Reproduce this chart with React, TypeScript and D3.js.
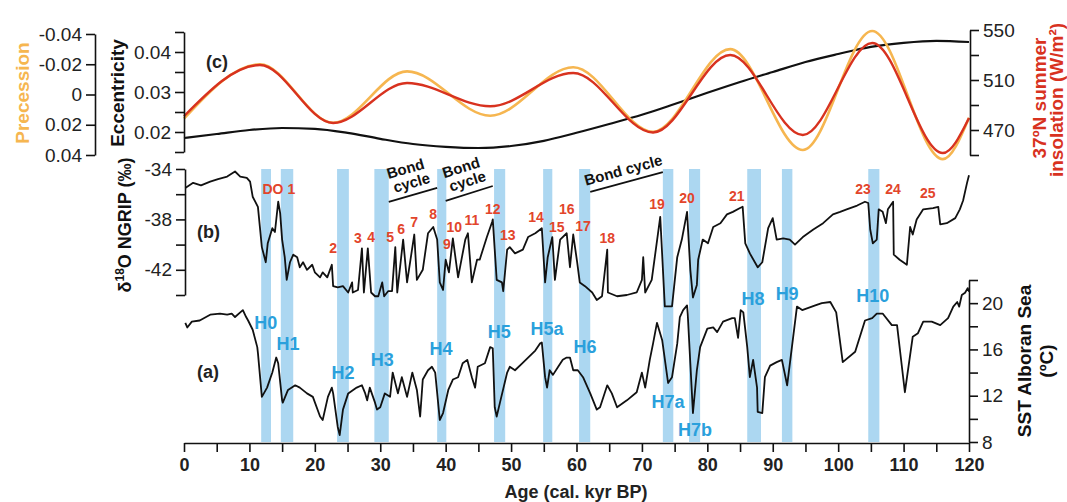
import React, { useEffect, useRef } from "react";
import * as d3 from "d3";

// ---- panel (c): orbital parameters ----
const eccAge = [0, 5, 10, 15, 20, 25, 30, 35, 40, 45, 50, 55, 60, 65, 70, 75, 80, 85, 90, 95, 100, 105, 110, 115, 120];
const eccVal = [0.0185, 0.0195, 0.0205, 0.021, 0.0208, 0.0198, 0.0183, 0.017, 0.0163, 0.016, 0.0165, 0.0178, 0.0198, 0.022, 0.0243, 0.027, 0.0298, 0.0325, 0.035, 0.0375, 0.0395, 0.0413, 0.0423, 0.0428, 0.0425];

const orbAge = [0, 11.6, 22.8, 34.1, 46.8, 59.5, 71.7, 83.5, 94.6, 105.2, 116, 120];
const precVal = [0.016, -0.02, 0.0187, -0.0153, 0.014, -0.018, 0.0247, -0.03, 0.0367, -0.042, 0.0427, 0.0153];
const insolVal = [481, 522, 475.6, 507.6, 489, 515.6, 468, 530, 466, 539.6, 451.6, 479.6];

// ---- panel (b): NGRIP d18O ----
const ngripAge = [0.2, 1.4, 2.6, 4.0, 5.2, 6.6, 7.8, 8.6, 9.6, 10.1, 10.5, 11.3, 11.6, 11.9, 12.5, 12.8, 13.5, 13.9, 14.4, 14.7, 15.0, 15.4, 15.7, 16.2, 16.7, 17.3, 17.7, 18.2, 18.8, 19.6, 20.0, 20.8, 21.2, 21.9, 22.6, 22.8, 23.5, 24.3, 25.1, 25.7, 25.8, 26.6, 27.2, 27.5, 28.1, 28.6, 29.2, 29.7, 30.3, 30.6, 31.2, 31.8, 32.3, 32.6, 33.5, 34.1, 35.2, 35.6, 36.5, 37.3, 38.1, 38.7, 39.1, 39.6, 40.0, 40.5, 41.1, 41.9, 43.0, 43.4, 44.0, 44.8, 45.2, 46.3, 47.1, 47.2, 47.8, 48.6, 48.8, 49.4, 49.8, 50.6, 51.8, 52.6, 53.7, 54.7, 55.2, 55.6, 56.3, 56.7, 57.5, 58.5, 59.0, 59.5, 60.1, 60.5, 61.3, 62.4, 63.1, 63.9, 64.7, 64.8, 66.2, 67.7, 69.2, 70.0, 70.2, 70.5, 71.5, 72.8, 73.5, 74.6, 75.4, 76.1, 76.9, 77.4, 77.8, 78.4, 78.6, 79.3, 80.1, 80.9, 82.0, 83.0, 83.9, 85.0, 85.4, 85.8, 86.5, 87.7, 88.4, 89.3, 90.0, 90.6, 91.6, 92.6, 93.4, 94.6, 96.2, 97.7, 99.2, 100.3, 101.3, 102.9, 104.1, 104.6, 104.9, 105.3, 105.9, 106.2, 106.8, 107.3, 107.6, 108.4, 108.5, 109.4, 110.5, 111.0, 111.4, 112.0, 113.0, 114.5, 115.3, 115.6, 116.6, 117.9, 118.6, 119.1, 119.7, 120.0];
const ngripVal = [-35.5, -35.1, -35.3, -35.0, -34.8, -34.6, -34.2, -34.6, -34.7, -35.0, -36.2, -37.0, -38.6, -40.2, -41.4, -39.9, -38.7, -39.0, -36.6, -37.5, -39.6, -41.0, -42.8, -41.4, -40.8, -41.0, -41.8, -41.4, -42.0, -41.6, -42.2, -42.6, -42.2, -42.6, -41.6, -43.3, -43.4, -43.3, -43.8, -43.0, -43.8, -43.6, -40.3, -43.8, -40.3, -43.8, -44.1, -44.1, -43.0, -44.1, -43.7, -43.7, -40.2, -43.8, -39.6, -43.0, -39.2, -42.8, -42.0, -39.1, -38.6, -39.6, -43.0, -43.6, -41.2, -42.2, -39.5, -42.6, -39.6, -39.1, -43.0, -41.2, -41.2, -39.4, -38.2, -38.0, -42.8, -43.0, -43.7, -40.4, -40.2, -40.7, -40.4, -39.4, -39.1, -38.7, -43.0, -41.0, -39.4, -42.8, -39.6, -39.1, -41.8, -39.2, -41.4, -43.0, -43.3, -43.8, -44.4, -44.1, -40.4, -43.8, -44.1, -44.0, -43.8, -42.8, -41.0, -43.8, -42.8, -37.8, -44.9, -44.9, -41.0, -39.6, -37.4, -42.0, -44.2, -43.2, -41.2, -39.6, -39.9, -38.6, -38.3, -37.6, -37.4, -37.1, -37.0, -39.9, -40.7, -41.8, -41.4, -38.7, -37.9, -39.6, -39.5, -39.6, -40.0, -39.4, -38.8, -38.3, -37.6, -37.4, -37.2, -36.9, -36.6, -36.7, -38.8, -39.9, -39.6, -37.2, -37.4, -38.3, -37.2, -36.6, -40.8, -41.2, -41.6, -38.6, -39.2, -38.0, -37.2, -37.1, -37.0, -38.4, -38.3, -37.9, -37.2, -36.5, -35.1, -34.5];

// ---- panel (a): Alboran Sea SST ----
const sstAge = [0.2, 0.5, 1.2, 2.4, 4.0, 5.5, 6.6, 7.3, 7.8, 8.6, 9.0, 9.5, 9.8, 10.5, 11.2, 11.3, 11.9, 12.7, 13.5, 14.1, 14.4, 15.0, 15.1, 15.9, 17.0, 17.7, 18.8, 19.7, 20.8, 21.2, 22.0, 22.6, 22.8, 23.5, 23.8, 24.3, 25.1, 26.4, 27.2, 27.7, 28.0, 28.4, 29.2, 29.5, 30.0, 30.7, 31.5, 31.9, 32.7, 33.3, 34.1, 34.9, 35.6, 36.1, 36.5, 37.3, 37.9, 38.4, 39.1, 39.6, 40.4, 41.1, 41.9, 42.6, 43.3, 44.0, 44.5, 44.9, 46.0, 46.8, 47.2, 47.5, 47.8, 48.3, 49.4, 49.8, 50.6, 51.7, 52.6, 53.7, 54.4, 54.7, 55.2, 55.5, 55.9, 56.4, 57.2, 57.9, 58.5, 59.0, 59.5, 60.2, 61.0, 62.1, 63.1, 63.6, 64.7, 65.4, 66.2, 67.7, 69.2, 70.0, 70.5, 71.2, 71.7, 72.3, 73.1, 74.0, 74.6, 75.4, 75.8, 76.3, 76.9, 77.0, 77.4, 77.8, 78.4, 78.9, 80.0, 80.9, 81.5, 82.4, 83.8, 84.2, 84.7, 85.1, 85.5, 86.1, 86.5, 87.0, 87.6, 87.7, 88.4, 88.8, 89.6, 90.6, 91.4, 92.2, 93.7, 94.5, 96.5, 97.5, 98.8, 99.7, 100.7, 102.6, 104.1, 105.2, 105.9, 106.8, 108.2, 109.0, 110.2, 111.4, 112.2, 113.0, 114.3, 115.6, 116.8, 117.6, 118.2, 118.5, 118.9, 119.4, 119.8, 120.0];
const sstVal = [18.3, 17.9, 18.4, 18.5, 19.0, 19.1, 19.0, 19.1, 18.8, 19.2, 19.4, 18.8, 18.5, 17.7, 16.2, 15.7, 11.9, 12.7, 14.0, 15.3, 14.8, 11.6, 11.4, 12.5, 12.9, 12.7, 12.2, 11.9, 10.2, 9.9, 11.9, 12.7, 12.2, 9.3, 8.6, 10.8, 12.2, 12.7, 12.9, 12.2, 11.6, 12.7, 11.4, 10.8, 11.0, 12.2, 11.9, 14.0, 12.2, 13.6, 11.9, 14.0, 12.5, 10.2, 13.4, 14.2, 14.5, 14.0, 9.9, 10.5, 12.5, 13.4, 13.6, 14.8, 15.1, 13.6, 12.7, 14.5, 14.8, 16.2, 16.1, 11.0, 10.2, 11.4, 14.0, 14.5, 14.2, 14.8, 15.3, 15.9, 16.5, 16.6, 13.6, 12.7, 14.2, 13.8, 14.5, 15.1, 15.3, 15.3, 14.2, 14.2, 13.6, 12.2, 10.8, 11.0, 12.9, 12.2, 11.0, 11.6, 12.3, 14.0, 12.7, 15.1, 16.5, 18.3, 16.8, 13.1, 13.6, 16.5, 18.8, 19.4, 19.8, 19.1, 14.8, 10.5, 14.2, 16.2, 17.8, 17.9, 17.5, 18.4, 18.7, 18.7, 17.0, 19.4, 19.2, 16.2, 13.6, 15.1, 12.7, 10.6, 10.5, 13.6, 14.6, 14.9, 15.1, 12.9, 19.7, 19.4, 19.8, 20.0, 20.1, 19.2, 14.9, 15.8, 18.5, 18.7, 19.1, 19.1, 18.1, 18.1, 12.3, 17.1, 17.4, 18.4, 18.4, 18.1, 18.7, 19.7, 20.1, 19.7, 20.7, 20.9, 21.3, 21.0];

// Heinrich stadials (kyr BP)
const bandStart = [11.8, 14.8, 23.4, 29.1, 38.7, 47.4, 54.9, 60.4, 73.2, 77.2, 86.1, 91.4, 104.6];
const bandEnd = [13.3, 16.7, 25.2, 31.3, 40.1, 49.1, 56.3, 62.1, 74.8, 78.9, 88.2, 93.0, 106.3];

const hLabels = ["H0", "H1", "H2", "H3", "H4", "H5", "H5a", "H6", "H7a", "H7b", "H8", "H9", "H10"];
const hAge = [12.5, 15.9, 24.3, 30.3, 39.3, 48.2, 55.5, 61.3, 74.0, 78.1, 87.0, 92.2, 105.3];
const hSst = [17.76, 15.94, 13.44, 14.56, 15.51, 16.98, 17.24, 15.69, 10.94, 8.52, 19.83, 20.26, 20.09];

const doLabels = ["DO 1", "2", "3", "4", "5", "6", "7", "8", "9", "10", "11", "12", "13", "14", "15", "16", "17", "18", "19", "20", "21", "23", "24", "25"];
const doAge = [14.5, 22.8, 26.6, 28.6, 31.5, 33.2, 35.2, 38.1, 40.2, 41.3, 44.0, 47.2, 49.5, 53.8, 57.0, 58.5, 61.0, 64.7, 72.3, 76.9, 84.5, 103.8, 108.4, 113.7];
const doVal = [-35.98, -40.65, -39.86, -39.78, -39.78, -39.15, -38.59, -37.96, -40.34, -38.99, -38.44, -37.56, -39.62, -38.2, -38.99, -37.56, -38.91, -39.86, -37.17, -36.69, -36.53, -35.98, -35.98, -36.3];

// Bond cycle brackets: start/end age and d18O level
const bondAge0 = [31.3, 40.0, 62.1];
const bondAge1 = [38.7, 47.2, 73.2];
const bondVal0 = [-36.61, -36.53, -35.82];
const bondVal1 = [-35.5, -35.35, -34.24];

const FONT = "'Liberation Sans', Arial, Helvetica, sans-serif";
const ORANGE = "#f6b650";
const RED = "#d8321f";
const BLUE = "#2aa0dc";
const BAND = "#acd7f1";

export default function App() {
  const ref = useRef<SVGSVGElement>(null);

  useEffect(() => {
    const svg = d3.select(ref.current);
    svg.selectAll("*").remove();

    const x = d3.scaleLinear().domain([0, 120]).range([184, 969]);
    const yPrec = d3.scaleLinear().domain([-0.04, 0.04]).range([34, 155]);
    const yEcc = d3.scaleLinear().domain([0.015, 0.045]).range([152, 32]);
    const yIns = d3.scaleLinear().domain([450, 550]).range([155, 30]);
    const yO = d3.scaleLinear().domain([-44, -34]).range([295, 169]);
    const ySst = d3.scaleLinear().domain([8, 22]).range([442, 280]);

    // Heinrich bands
    svg.append("g")
      .selectAll("rect")
      .data(bandStart)
      .join("rect")
      .attr("x", (d) => x(d))
      .attr("width", (d, i) => x(bandEnd[i]) - x(d))
      .attr("y", yO(-34))
      .attr("height", ySst(8) - yO(-34))
      .attr("fill", BAND);

    const path = (ages: number[], vals: number[], yScale: any, curve: any) =>
      d3.line<number>()
        .x((_, i) => x(ages[i]))
        .y((d) => yScale(d))
        .curve(curve)(vals);

    // panel (c)
    svg.append("path").attr("d", path(eccAge, eccVal, yEcc, d3.curveMonotoneX))
      .attr("fill", "none").attr("stroke", "#111").attr("stroke-width", 2.2);
    svg.append("path").attr("d", path(orbAge, precVal, yPrec, d3.curveMonotoneX))
      .attr("fill", "none").attr("stroke", ORANGE).attr("stroke-width", 2.6);
    svg.append("path").attr("d", path(orbAge, insolVal, yIns, d3.curveMonotoneX))
      .attr("fill", "none").attr("stroke", RED).attr("stroke-width", 2.4);

    // panel (b) and (a)
    svg.append("path").attr("d", path(ngripAge, ngripVal, yO, d3.curveLinear))
      .attr("fill", "none").attr("stroke", "#111").attr("stroke-width", 1.8).attr("stroke-linejoin", "round");
    svg.append("path").attr("d", path(sstAge, sstVal, ySst, d3.curveLinear))
      .attr("fill", "none").attr("stroke", "#111").attr("stroke-width", 1.8).attr("stroke-linejoin", "round");

    // axes
    const style = (g: any, size: number, bold = false) => {
      g.attr("font-family", FONT).attr("font-size", size);
      g.select(".domain").attr("stroke", "#111").attr("stroke-width", 1.6);
      g.selectAll(".tick line").attr("stroke", "#111").attr("stroke-width", 1.6);
      g.selectAll(".tick text").attr("fill", "#222").attr("font-weight", bold ? "bold" : "normal");
    };

    const precFmt = (d: number) => (d === 0 ? "0" : d < 0 ? "-" + Math.abs(d).toFixed(2) : d.toFixed(2));
    style(svg.append("g").attr("transform", "translate(95,0)")
      .call(d3.axisLeft(yPrec).tickValues([-0.04, -0.02, 0, 0.02, 0.04]).tickFormat(precFmt as any)
        .tickSize(9).tickSizeOuter(0).tickPadding(4)), 19);

    style(svg.append("g").attr("transform", "translate(184,0)")
      .call(d3.axisLeft(yEcc).tickValues([0.015, 0.02, 0.025, 0.03, 0.035, 0.04, 0.045])
        .tickFormat((d: any) => ([0.02, 0.03, 0.04].some((v) => Math.abs(v - d) < 1e-6) ? d.toFixed(2) : "") as any)
        .tickSize(9).tickSizeOuter(0).tickPadding(4)), 19);

    style(svg.append("g").attr("transform", "translate(970,0)")
      .call(d3.axisRight(yIns).tickValues([450, 470, 490, 510, 530, 550])
        .tickFormat((d: any) => ([470, 510, 550].includes(d) ? String(d) : "") as any)
        .tickSize(9).tickSizeOuter(0).tickPadding(4)), 19);

    style(svg.append("g").attr("transform", "translate(185,0)")
      .call(d3.axisLeft(yO).tickValues([-44, -42, -40, -38, -36, -34])
        .tickFormat((d: any) => ([-42, -38, -34].includes(d) ? String(d) : "") as any)
        .tickSize(9).tickSizeOuter(0).tickPadding(4)), 19);

    style(svg.append("g").attr("transform", "translate(969,0)")
      .call(d3.axisRight(ySst).tickValues([8, 10, 12, 14, 16, 18, 20, 22])
        .tickFormat((d: any) => ([8, 12, 16, 20].includes(d) ? String(d) : "") as any)
        .tickSize(9).tickSizeOuter(0).tickPadding(4)), 19);

    style(svg.append("g").attr("transform", "translate(0,443)")
      .call(d3.axisBottom(x).tickValues(d3.range(0, 121, 5))
        .tickFormat((d: any) => (d % 10 === 0 ? String(d) : "") as any)
        .tickSize(9).tickSizeOuter(0).tickPadding(6)), 18, true);

    // axis titles
    const vtitle = (tx: number, ty: number, text: string, color: string, size = 19) =>
      svg.append("text")
        .attr("transform", `translate(${tx},${ty}) rotate(-90)`)
        .attr("text-anchor", "middle")
        .attr("font-family", FONT).attr("font-size", size).attr("font-weight", "bold")
        .attr("fill", color).text(text);

    vtitle(29, 93, "Precession", ORANGE);
    vtitle(124, 93, "Eccentricity", "#111");
    vtitle(1046, 98, "37ºN summer", RED);
    vtitle(1063, 100, "insolation (W/m²)", RED);
    vtitle(1031, 361, "SST Alboran Sea", "#111");
    vtitle(1053, 361, "(ºC)", "#111");

    const o18 = svg.append("text")
      .attr("transform", "translate(131,225) rotate(-90)")
      .attr("text-anchor", "middle")
      .attr("font-family", FONT).attr("font-size", 18).attr("font-weight", "bold").attr("fill", "#111");
    o18.append("tspan").text("δ");
    o18.append("tspan").attr("font-size", 12).attr("dy", -7).text("18");
    o18.append("tspan").attr("dy", 7).text("O NGRIP (‰)");

    svg.append("text")
      .attr("x", 576).attr("y", 498).attr("text-anchor", "middle")
      .attr("font-family", FONT).attr("font-size", 18).attr("font-weight", "bold").attr("fill", "#222")
      .text("Age (cal. kyr BP)");

    // panel letters
    const letter = (tx: number, ty: number, t: string) =>
      svg.append("text").attr("x", tx).attr("y", ty)
        .attr("font-family", FONT).attr("font-size", 18).attr("font-weight", "bold").attr("fill", "#222").text(t);
    letter(206, 68, "(c)");
    letter(197, 238, "(b)");
    letter(197, 378, "(a)");

    // Heinrich labels
    svg.append("g").selectAll("text").data(hLabels).join("text")
      .attr("x", (_, i) => x(hAge[i])).attr("y", (_, i) => ySst(hSst[i]))
      .attr("text-anchor", "middle")
      .attr("font-family", FONT).attr("font-size", 18).attr("font-weight", "bold").attr("fill", BLUE)
      .text((d) => d);

    // DO labels
    svg.append("g").selectAll("text").data(doLabels).join("text")
      .attr("x", (_, i) => x(doAge[i])).attr("y", (_, i) => yO(doVal[i]))
      .attr("text-anchor", "middle")
      .attr("font-family", FONT).attr("font-size", 14).attr("font-weight", "bold").attr("fill", "#e2452b")
      .text((d) => d);

    // Bond cycles
    bondAge0.forEach((a0, i) => {
      const x0 = x(a0), y0 = yO(bondVal0[i]), x1 = x(bondAge1[i]), y1 = yO(bondVal1[i]);
      svg.append("line").attr("x1", x0).attr("y1", y0).attr("x2", x1).attr("y2", y1)
        .attr("stroke", "#111").attr("stroke-width", 1.8);
      const ang = (Math.atan2(y1 - y0, x1 - x0) * 180) / Math.PI;
      const cx = (x0 + x1) / 2, cy = (y0 + y1) / 2;
      const t = svg.append("text")
        .attr("transform", `translate(${cx},${cy}) rotate(${ang})`)
        .attr("text-anchor", "middle")
        .attr("font-family", FONT).attr("font-size", 15).attr("font-weight", "bold").attr("fill", "#111");
      if (i < 2) {
        t.append("tspan").attr("x", 0).attr("y", -22).text("Bond");
        t.append("tspan").attr("x", 2).attr("y", -7).text("cycle");
      } else {
        t.append("tspan").attr("x", 0).attr("y", -7).text("Bond cycle");
      }
    });
  }, []);

  return (
    <svg
      ref={ref}
      width={1067}
      height={502}
      style={{ position: "absolute", left: 0, top: 0, background: "#fff" }}
    />
  );
}
